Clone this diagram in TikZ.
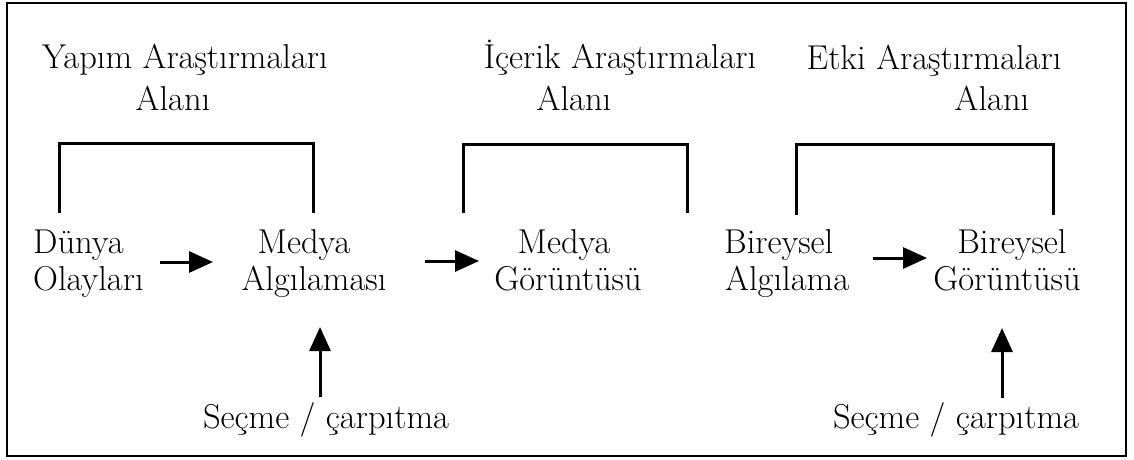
\documentclass[tikz,border=0pt]{standalone}
\usetikzlibrary{arrows.meta}
\begin{document}
\begin{tikzpicture}[x=1pt,y=1pt,
  lbl/.style={inner sep=0pt,font=\fontsize{34.5}{40}\selectfont},
  arr/.style={line width=3pt,-{Triangle[length=24pt,width=21pt]}},
  brk/.style={line width=3pt},
  frame/.style={line width=2.5pt}]
\useasboundingbox (0,0) rectangle (1134,-459);
\draw[frame] (7,-3) rectangle (1126,-456);
% top labels
\node[lbl,anchor=base] (yap)   at (185,-68)  {Yapım Araştırmaları};
\node[lbl,anchor=base] (alan1) at (173,-110) {Alanı};
\node[lbl,anchor=base] (icer)  at (620,-68)  {İçerik Araştırmaları};
\node[lbl,anchor=base] (alan2) at (574,-110) {Alanı};
\node[lbl,anchor=base] (etki)  at (934,-69)  {Etki Araştırmaları};
\node[lbl,anchor=base] (alan3) at (992,-110) {Alanı};
% brackets
\coordinate (b1a) at (59,-213);  \coordinate (b1b) at (59,-143);
\coordinate (b1c) at (313,-143); \coordinate (b1d) at (313,-213);
\coordinate (b2a) at (463,-213); \coordinate (b2b) at (463,-144);
\coordinate (b2c) at (687,-144); \coordinate (b2d) at (687,-213);
\coordinate (b3a) at (796,-215); \coordinate (b3b) at (796,-144);
\coordinate (b3c) at (1053,-144);\coordinate (b3d) at (1053,-215);
\draw[brk] (b1a) -- (b1b) -- (b1c) -- (b1d);
\draw[brk] (b2a) -- (b2b) -- (b2c) -- (b2d);
\draw[brk] (b3a) -- (b3b) -- (b3c) -- (b3d);
% row texts
\node[lbl,anchor=base west] (dunya) at (33,-253)  {Dünya};
\node[lbl,anchor=base west] (olay)  at (33,-290)  {Olayları};
\node[lbl,anchor=base] (medA) at (304,-253) {Medya};
\node[lbl,anchor=base] (algi) at (314,-290) {Algılaması};
\node[lbl,anchor=base] (medB) at (564,-253) {Medya};
\node[lbl,anchor=base] (goruA) at (568,-290) {Görüntüsü};
\node[lbl,anchor=base west] (birA) at (724,-253) {Bireysel};
\node[lbl,anchor=base west] (algA) at (725,-290) {Algılama};
\node[lbl,anchor=base] (birB) at (1012,-253) {Bireysel};
\node[lbl,anchor=base] (goruB) at (1007,-290) {Görüntüsü};
\node[lbl,anchor=base] (secA) at (326,-428) {Seçme / çarpıtma};
\node[lbl,anchor=base] (secB) at (956,-428) {Seçme / çarpıtma};
% arrow end points
\coordinate (a1s) at (160,-262); \coordinate (a1e) at (213,-262);
\coordinate (a2s) at (425,-261); \coordinate (a2e) at (479,-261);
\coordinate (a3s) at (873,-258); \coordinate (a3e) at (927,-258);
\coordinate (u1s) at (320,-397); \coordinate (u1e) at (320,-327);
\coordinate (u2s) at (1002,-398); \coordinate (u2e) at (1002,-328);
\draw[arr] (a1s) -- (a1e);
\draw[arr] (a2s) -- (a2e);
\draw[arr] (a3s) -- (a3e);
\draw[arr] (u1s) -- (u1e);
\draw[arr] (u2s) -- (u2e);
\end{tikzpicture}
\end{document}
